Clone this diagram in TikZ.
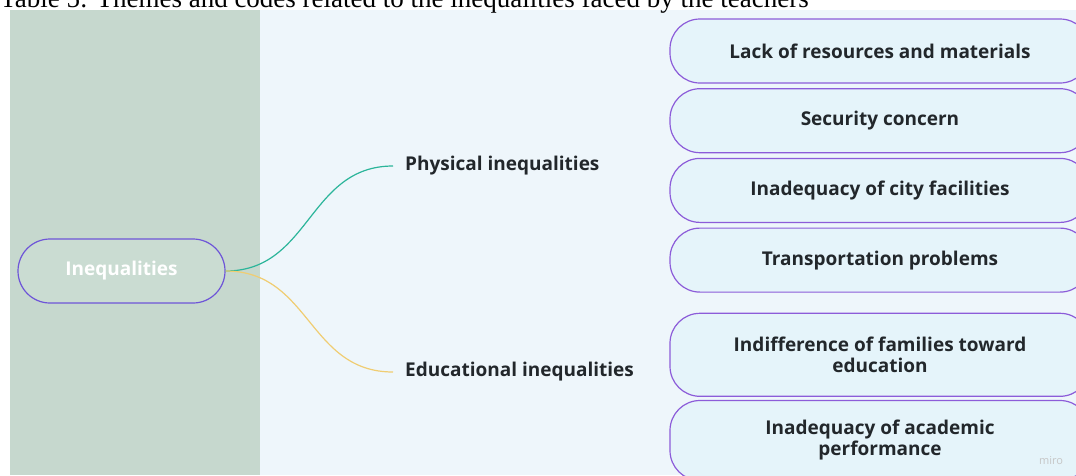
\documentclass[tikz,border=0pt]{standalone}
\usepackage{fontspec}
\setmainfont{Open Sans}
\newfontfamily\captionfont{Liberation Serif}
\usetikzlibrary{positioning}
\definecolor{panelgreen}{HTML}{C6D8CE}
\definecolor{rootfill}{HTML}{CADCD2}
\definecolor{canvasblue}{HTML}{EEF6FB}
\definecolor{codefill}{HTML}{E5F4FA}
\definecolor{codeline}{HTML}{8C5CD9}
\definecolor{rootline}{HTML}{6E55D8}
\definecolor{physcol}{HTML}{2BB59A}
\definecolor{educol}{HTML}{F0CD72}
\definecolor{inktext}{HTML}{22272B}
\def\CodeWidth{420pt}
\def\CodeHeight{64pt}
\def\CodeGap{4.5pt}

\begin{document}
\begin{tikzpicture}[x=1pt,y=-1pt,
		code/.style={draw=codeline,fill=codefill,line width=1.2pt,rounded corners=30pt,
			minimum width=\CodeWidth,minimum height=\CodeHeight,inner sep=0pt,align=center,
			text=inktext,font=\bfseries\fontsize{19}{21}\selectfont},
		theme/.style={anchor=west,inner xsep=12pt,text=inktext,font=\bfseries\fontsize{19}{21}\selectfont},
		root/.style={draw=rootline,fill=rootfill,line width=1.2pt,rounded corners=32pt,
			minimum width=207pt,minimum height=64pt,text=white,font=\bfseries\fontsize{19}{21}\selectfont},
		branch/.style={line width=1.2pt}]
	\useasboundingbox (0,0) rectangle (1076,475);
	\clip (0,0) rectangle (1076,475);
	% backdrop
	\fill[canvasblue] (10,10) rectangle (1076,475);
	\fill[panelgreen] (10,10) rectangle (260,475);
	\node[anchor=base west,inner sep=0pt,font=\captionfont\fontsize{27}{27}\selectfont] (cap) at (0,7)
		{Table 5: Themes and codes related to the inequalities faced by the teachers};
	% 
	\node[root] (ineq) at (121.5,271) {Inequalities};
	\node[theme] (phys) at (393,166) {Physical inequalities};
	\node[theme] (educ) at (393,372) {Educational inequalities};
	% codes
	\node[code] (c1) at (880,51) {Lack of resources and materials};
	\node[code,below=\CodeGap of c1] (c2) {Security concern};
	\node[code,below=\CodeGap of c2] (c3) {Inadequacy of city facilities};
	\node[code,below=\CodeGap of c3] (c4) {Transportation problems};
	\node[code,below=20pt of c4,minimum height=83pt] (c5) {Indifference of families toward\\education};
	\node[code,below=3pt of c5,minimum height=80pt] (c6) {Inadequacy of academic\\performance};
	% 
	\draw[branch,physcol] (ineq.east) .. controls +(85,0) and +(-85,0) .. (phys.west);
	\draw[branch,educol] (ineq.east) .. controls +(85,0) and +(-85,0) .. (educ.west);
	\node[text=gray!45,font=\fontsize{11}{11}\selectfont] (logo) at (1051,461) {miro};
\end{tikzpicture}
\end{document}
